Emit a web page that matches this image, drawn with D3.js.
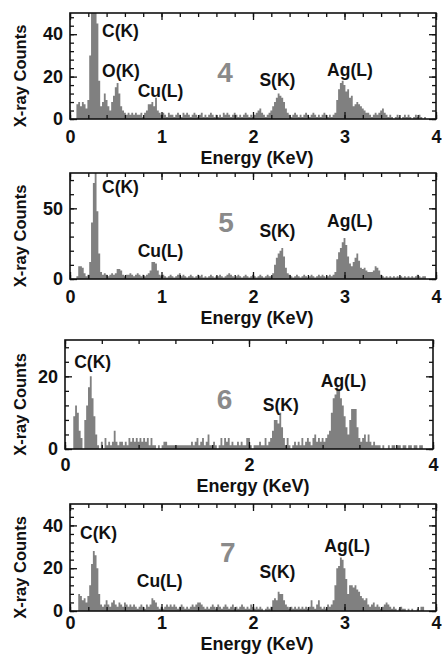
<!DOCTYPE html>
<html>
<head>
<meta charset="UTF-8" />
<title>EDX spectra</title>
<script src="https://d3js.org/d3.v7.min.js"></script>
<style>
  body { margin: 0; background: #fff; }
  svg text { font-family: "Liberation Sans", Arial, sans-serif; font-weight: bold; }
</style>
</head>
<body>
<svg id="chart" width="442" height="658"></svg>
<script>
// energy channels: first channel starts at 0.07 keV, 0.02 keV wide
const startEnergy = 0.07;
const channelWidth = 0.02;

// sample 4 counts (0.08 .. 3.88 keV)
const counts4 = [
  7,8,6,8,7,5,9,30,60,60,60,45,18,6,8,12,9,6,4,8,
  11,15,17,12,6,4,3,2,3,2,3,2,3,2,2,3,1,3,4,7,
  7,8,6,10,4,3,2,3,2,1,3,2,2,1,2,3,2,1,3,2,
  3,2,1,2,3,2,1,2,3,1,2,1,2,3,2,1,2,1,2,1,
  3,2,3,2,1,2,3,2,1,2,1,2,3,2,1,2,1,2,3,4,
  5,3,2,1,2,3,4,6,8,10,12,11,10,8,5,3,2,1,2,3,
  2,1,2,1,2,3,2,1,2,3,2,1,2,1,2,3,2,1,2,1,
  2,3,9,14,17,18,16,13,14,10,11,6,7,8,7,6,5,4,3,3,
  2,1,2,3,2,3,4,5,3,2,1,2,1,0,1,2,1,0,1,2,
  1,2,1,0,1,2,1,2,1,0,1
];
// sample 5
const counts5 = [
  2,9,9,8,4,2,3,12,40,68,76,48,18,5,3,4,3,2,3,4,
  3,4,7,7,6,3,2,3,3,4,3,2,3,4,3,2,3,2,3,4,
  6,12,12,11,6,3,2,3,2,1,2,3,2,1,2,3,4,2,3,2,
  1,2,3,2,1,2,3,2,3,1,2,1,2,3,2,1,2,2,3,2,
  1,2,3,4,3,2,1,2,3,2,1,2,3,2,1,2,3,2,1,2,
  3,2,1,2,3,2,2,4,10,15,18,20,22,16,8,4,3,2,1,2,
  3,2,1,2,3,2,1,2,3,2,1,2,3,2,3,2,1,2,3,2,
  3,5,14,19,22,26,29,24,16,11,9,12,15,18,13,8,7,8,6,5,
  5,5,6,9,8,6,3,2,1,2,1,2,1,2,1,2,1,2,1,2,
  1,2,1,2,1,2,3,2,1,2,2
];
// sample 6
const counts6 = [
  0,9,12,10,5,3,0,8,12,17,20,14,9,4,1,0,2,0,3,1,
  2,1,2,5,2,1,2,2,1,2,1,3,2,3,2,3,2,3,2,3,
  2,3,1,3,1,1,0,1,0,1,2,2,1,1,1,1,1,1,1,1,
  1,1,1,1,1,2,1,2,3,1,2,3,1,2,4,1,1,2,1,0,
  1,3,1,3,2,3,1,2,1,1,2,1,2,1,1,3,3,1,0,1,
  1,1,2,1,1,3,1,2,3,5,8,8,7,10,6,3,1,3,1,0,
  1,2,1,2,1,3,1,2,3,2,1,3,4,2,3,2,3,2,3,4,
  5,10,14,15,17,16,14,12,9,6,4,8,11,11,11,6,3,2,3,4,
  2,4,2,1,2,1,1,1,0,1,0,0,1,0,1,1,0,1,1,0,
  1,1,0,1,1,0,1,1,0,1,1
];
// sample 7
const counts7 = [
  0,8,7,5,6,4,7,12,22,28,26,20,8,3,2,3,5,3,2,4,
  5,3,2,4,3,2,4,3,2,3,2,3,2,1,2,3,2,1,3,2,
  3,6,5,4,2,1,2,1,2,3,2,3,2,3,2,1,2,3,2,1,
  2,1,2,3,2,3,4,4,3,2,1,2,1,2,3,2,1,3,2,1,
  2,3,2,1,2,3,1,2,1,2,3,2,1,2,1,3,2,1,2,1,
  2,1,0,1,2,1,2,5,6,5,9,8,8,5,3,2,1,2,1,2,
  1,2,1,2,1,2,1,2,5,2,1,3,5,2,1,2,1,3,2,3,
  5,12,20,21,25,24,20,15,8,12,12,11,12,10,9,7,6,5,6,3,
  2,3,4,2,3,2,1,2,3,4,3,2,1,2,1,0,1,2,1,1,
  0,1,0,1,0,0,1,0,2,2,0
];

// peak labels: [text, energy, counts]
const labels4 = [["C(K)",0.35,38.7],["O(K)",0.35,19.8],["Cu(L)",0.74,10.4],["S(K)",2.07,15.6],["Ag(L)",2.81,20.3]];
const labels5 = [["C(K)",0.35,60.6],["Cu(L)",0.74,15.5],["S(K)",2.07,29.6],["Ag(L)",2.81,36.6]];
const labels6 = [["C(K)",0.10,22.3],["S(K)",2.15,10.4],["Ag(L)",2.78,17.2]];
const labels7 = [["C(K)",0.11,33.8],["Cu(L)",0.73,11.3],["S(K)",2.07,15.5],["Ag(L)",2.78,27.7]];

// sample numbers: [text, energy, counts]
const sampleTags = [["4",1.61,17.5],["5",1.62,33],["6",1.65,11],["7",1.64,23]];

const yMax = [50, 75, 30, 50];
const yMajor = [[0,20,40],[0,50],[0,20],[0,20,40]];
const yMinorStep = [4, 10, 4, 4];
const xMajor = [[0,1,2,3,4],[0,1,2,3,4],[0,2,4],[0,1,2,3,4]];
const xMinorStep = [0.2, 0.2, 0.4, 0.2];

// layout
const boxes = [
  {left:70, right:436, top:13, bottom:119, tickBase:24, titleBase:45},
  {left:70, right:436, top:173, bottom:279, tickBase:24, titleBase:45},
  {left:65, right:433, top:340, bottom:449, tickBase:22, titleBase:43},
  {left:70, right:436, top:504, bottom:611, tickBase:18, titleBase:39}
];
const allCounts = [counts4, counts5, counts6, counts7];
const allLabels = [labels4, labels5, labels6, labels7];

const svg = d3.select('#chart');

allCounts.forEach((counts, k) => {
  const b = boxes[k];
  const x = d3.scaleLinear().domain([0, 4]).range([b.left, b.right]);
  const y = d3.scaleLinear().domain([0, yMax[k]]).range([b.bottom, b.top]);
  const g = svg.append('g');

  const clipId = 'clip' + k;
  g.append('clipPath').attr('id', clipId)
    .append('rect').attr('x', b.left).attr('y', b.top)
    .attr('width', b.right - b.left).attr('height', b.bottom - b.top);

  const pts = counts.map((c, i) => ({e: startEnergy + i * channelWidth, c: c}));
  pts.push({e: startEnergy + counts.length * channelWidth, c: 0});
  const area = d3.area()
    .x(d => x(d.e)).y0(y(0)).y1(d => y(d.c))
    .curve(d3.curveStepAfter);
  g.append('path').datum(pts)
    .attr('clip-path', 'url(#' + clipId + ')')
    .attr('d', area).attr('fill', '#808080').attr('stroke', 'none');

  // ticks on all four sides, pointing inward
  const xMinor = d3.range(0, 4.0001, xMinorStep[k]);
  const yMinor = d3.range(0, yMax[k] - 0.001, yMinorStep[k]);
  const addTicks = (axis, tx, ty) => {
    const a = g.append('g').attr('transform', `translate(${tx},${ty})`).call(axis);
    a.select('.domain').remove();
    a.selectAll('line').attr('stroke', '#111').attr('stroke-width', 1.3);
    return a;
  };
  addTicks(d3.axisBottom(x).tickValues(xMinor).tickSize(-4).tickFormat(''), 0, b.bottom);
  addTicks(d3.axisTop(x).tickValues(xMinor).tickSize(-4).tickFormat(''), 0, b.top);
  addTicks(d3.axisLeft(y).tickValues(yMinor).tickSize(-4).tickFormat(''), b.left, 0);
  addTicks(d3.axisRight(y).tickValues(yMinor).tickSize(-4).tickFormat(''), b.right, 0);
  addTicks(d3.axisTop(x).tickValues(xMajor[k]).tickSize(-7).tickFormat(''), 0, b.top);
  addTicks(d3.axisRight(y).tickValues(yMajor[k]).tickSize(-7).tickFormat(''), b.right, 0);

  const bx = addTicks(d3.axisBottom(x).tickValues(xMajor[k]).tickSize(-7).tickPadding(0).tickFormat(d3.format('d')), 0, b.bottom);
  bx.selectAll('text').attr('y', b.tickBase).attr('dy', null)
    .attr('font-size', 18).attr('fill', '#111');
  const ly = addTicks(d3.axisLeft(y).tickValues(yMajor[k]).tickSize(-7).tickPadding(7).tickFormat(d3.format('d')), b.left, 0);
  ly.selectAll('text').attr('font-size', 18).attr('fill', '#111');
  bx.attr('font-family', null); ly.attr('font-family', null);

  g.append('rect')
    .attr('x', b.left).attr('y', b.top)
    .attr('width', b.right - b.left).attr('height', b.bottom - b.top)
    .attr('fill', 'none').attr('stroke', '#111').attr('stroke-width', 1.6);

  g.append('text')
    .attr('x', (b.left + b.right) / 2 + 4).attr('y', b.bottom + b.titleBase)
    .attr('text-anchor', 'middle').attr('font-size', 18).attr('fill', '#111')
    .text('Energy (KeV)');
  g.append('text')
    .attr('transform', `translate(26,${(b.top + b.bottom) / 2 + 10}) rotate(-90)`)
    .attr('text-anchor', 'middle').attr('font-size', 16.5).attr('fill', '#111')
    .text('X-ray Counts');

  g.selectAll('text.peak').data(allLabels[k]).join('text')
    .attr('class', 'peak')
    .attr('x', d => x(d[1])).attr('y', d => y(d[2]))
    .attr('font-size', 17.5).attr('fill', '#111')
    .text(d => d[0]);

  const tag = sampleTags[k];
  g.append('text')
    .attr('x', x(tag[1])).attr('y', y(tag[2]))
    .attr('font-size', 28).attr('fill', '#8a8a8a')
    .text(tag[0]);
});
</script>
</body>
</html>
